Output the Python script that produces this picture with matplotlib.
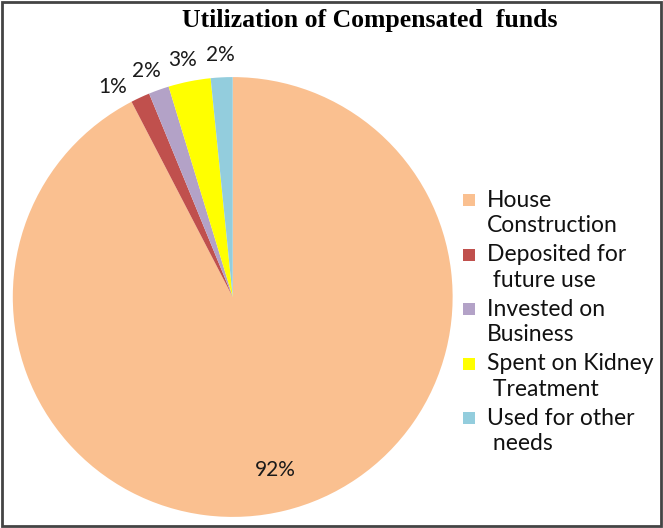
import numpy as np
import matplotlib.pyplot as plt
from matplotlib.patches import Rectangle

categories = ["House\nConstruction", "Deposited for\n future use", "Invested on\nBusiness",
              "Spent on Kidney\n Treatment", "Used for other\n needs"]
shares = [92.3, 1.4, 1.5, 3.1, 1.6]
colors = ["#FAC090", "#C0504D", "#B3A2C7", "#FFFF00", "#93CDDD"]

label_font = "Lato"
W, H = 663, 528

fig = plt.figure(figsize=(W / 100, H / 100), dpi=100)
ax = fig.add_axes([0.019, 0.021, 0.664, 0.833])

wedges, texts, pcts = ax.pie(shares, colors=colors, startangle=90, counterclock=False,
                             autopct="%1.0f%%", pctdistance=0.81,
                             wedgeprops=dict(edgecolor="none", linewidth=0))
ax.set_aspect("equal")
ax.set_xlim(-1, 1)
ax.set_ylim(-1, 1)

for t in pcts:
    t.set_fontfamily(label_font)
    t.set_fontsize(15)
    t.set_color("#1a1a1a")
    t.set_clip_on(False)

# small slices: labels outside the rim, spread so they don't collide
prev = None
for w, t in reversed(list(zip(wedges, pcts))):
    if (w.theta2 - w.theta1) > 30:
        continue
    ang = (w.theta1 + w.theta2) / 2
    if prev is not None and ang - prev < 9:
        ang = prev + 9
    prev = ang
    a = np.deg2rad(ang)
    t.set_position((1.1 * np.cos(a), 1.1 * np.sin(a)))

fig.text(0.558, 0.962, "Utilization of Compensated  funds", ha="center", va="center",
         fontfamily="Liberation Serif", fontweight="bold", fontsize=18.5)

# legend drawn by hand so each swatch sits by the first line of its label
top, pitch = 200, 54.5
for i, (lab, col) in enumerate(zip(categories, colors)):
    yc = top + i * pitch
    fig.patches.append(Rectangle((463 / W, 1 - (yc + 6) / H), 12 / W, 12 / H,
                                 transform=fig.transFigure, facecolor=col, edgecolor="none"))
    fig.text(487 / W, 1 - (yc + 13) / H, lab, ha="left", va="center", linespacing=1.25,
             fontfamily=label_font, fontsize=16.5, color="#111111")

# chart border
fig.patches.append(Rectangle((0.003, 0.004), 0.994, 0.992, transform=fig.transFigure,
                             fill=False, edgecolor="#444444", linewidth=2))

fig.savefig("out.png", dpi=100)
